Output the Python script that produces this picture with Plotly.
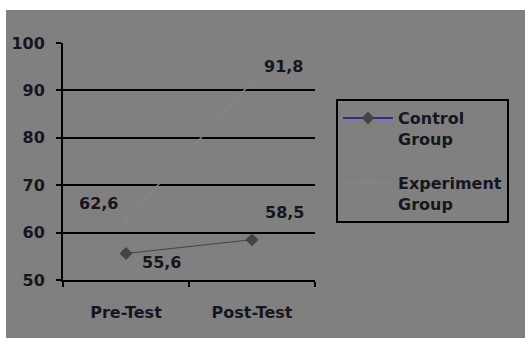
import plotly.graph_objects as go

# Test phases and group means
phases = ["Pre-Test", "Post-Test"]
control_group = [55.6, 58.5]
experiment_group = [62.6, 91.8]
y_ticks = [50, 60, 70, 80, 90, 100]
grid_ticks = [60, 70, 80, 90]

W, H = 525, 338
L, R, T, B = 63, 210, 43, 58
pw, ph = W - L - R, H - T - B

TEXT = "#16161e"
FONT = "DejaVu Sans"
BG = "#808080"
FS = 16


def fmt(v):
    return f"{v:.1f}".replace(".", ",")


bold = dict(family=FONT, size=FS, color=TEXT, weight="bold")

fig = go.Figure()

# Control group: thin dark line with diamond markers
fig.add_trace(go.Scatter(
    x=phases, y=control_group, mode="lines+markers",
    showlegend=False, legendgroup="ctl",
    line=dict(color="#444444", width=1),
    marker=dict(symbol="diamond", size=10, color="#444444"),
))
# Legend key for the control group (blue line, dark diamond)
fig.add_trace(go.Scatter(
    x=[None], y=[None], mode="lines+markers",
    name="Control<br>Group", legendgroup="ctl",
    line=dict(color="#2b2ba8", width=2),
    marker=dict(symbol="diamond", size=10, color="#444444"),
))

# Experiment group: a pale grey line, nearly the same tone as the background
fig.add_trace(go.Scatter(
    x=phases, y=experiment_group, mode="lines+markers",
    name="Experiment<br>Group", legendgroup="exp",
    line=dict(color="#858585", width=1.5),
    marker=dict(symbol="square", size=6, color="#838383"),
))

# Value labels, offset from their points
label_offsets = {
    ("exp", 0): (-28, 17), ("exp", 1): (31, 15),
    ("ctl", 0): (35, -9), ("ctl", 1): (32, 27),
}
ann = []
for key, series in (("exp", experiment_group), ("ctl", control_group)):
    for i, v in enumerate(series):
        dx, dy = label_offsets[(key, i)]
        ann.append(dict(
            x=phases[i], y=v, xref="x", yref="y", text=fmt(v),
            showarrow=False, xshift=dx, yshift=dy, font=bold,
        ))

# White strips along the top and left edges of the grey backdrop
shapes = [
    dict(type="rect", xref="paper", yref="paper", layer="above",
         x0=-L / pw, x1=(W - L) / pw, y0=(T + ph - 10) / ph, y1=(T + ph) / ph,
         fillcolor="white", line=dict(width=0)),
    dict(type="rect", xref="paper", yref="paper", layer="above",
         x0=-L / pw, x1=(6 - L) / pw, y0=-B / ph, y1=(T + ph) / ph,
         fillcolor="white", line=dict(width=0)),
]

fig.update_layout(
    width=W, height=H,
    margin=dict(l=L, r=R, t=T, b=B),
    paper_bgcolor=BG, plot_bgcolor=BG,
    font=dict(family=FONT, size=FS, color=TEXT),
    shapes=shapes, annotations=ann,
    xaxis=dict(
        type="category", range=[-0.5, 1.5], tickson="boundaries",
        ticks="outside", ticklen=5, tickwidth=2, tickcolor="black",
        showline=True, linecolor="black", linewidth=2,
        showgrid=False, ticklabelstandoff=17, tickfont=bold,
    ),
    yaxis=dict(
        range=[50, 100], tickvals=y_ticks,
        ticks="outside", ticklen=5, tickwidth=2, tickcolor="black",
        showline=True, linecolor="black", linewidth=2,
        showgrid=False, zeroline=False, ticklabelstandoff=8,
        tickfont=bold,
        minor=dict(tickvals=grid_ticks, showgrid=True, gridcolor="black",
                   gridwidth=2, ticks=""),
    ),
    legend=dict(
        x=(336 - L) / pw, y=(T + ph - 99) / ph, xanchor="left", yanchor="top",
        bordercolor="black", borderwidth=2, bgcolor="rgba(0,0,0,0)",
        traceorder="grouped", valign="top", tracegroupgap=20,
        itemwidth=50, font=bold,
    ),
)

fig.write_html("out.html")
